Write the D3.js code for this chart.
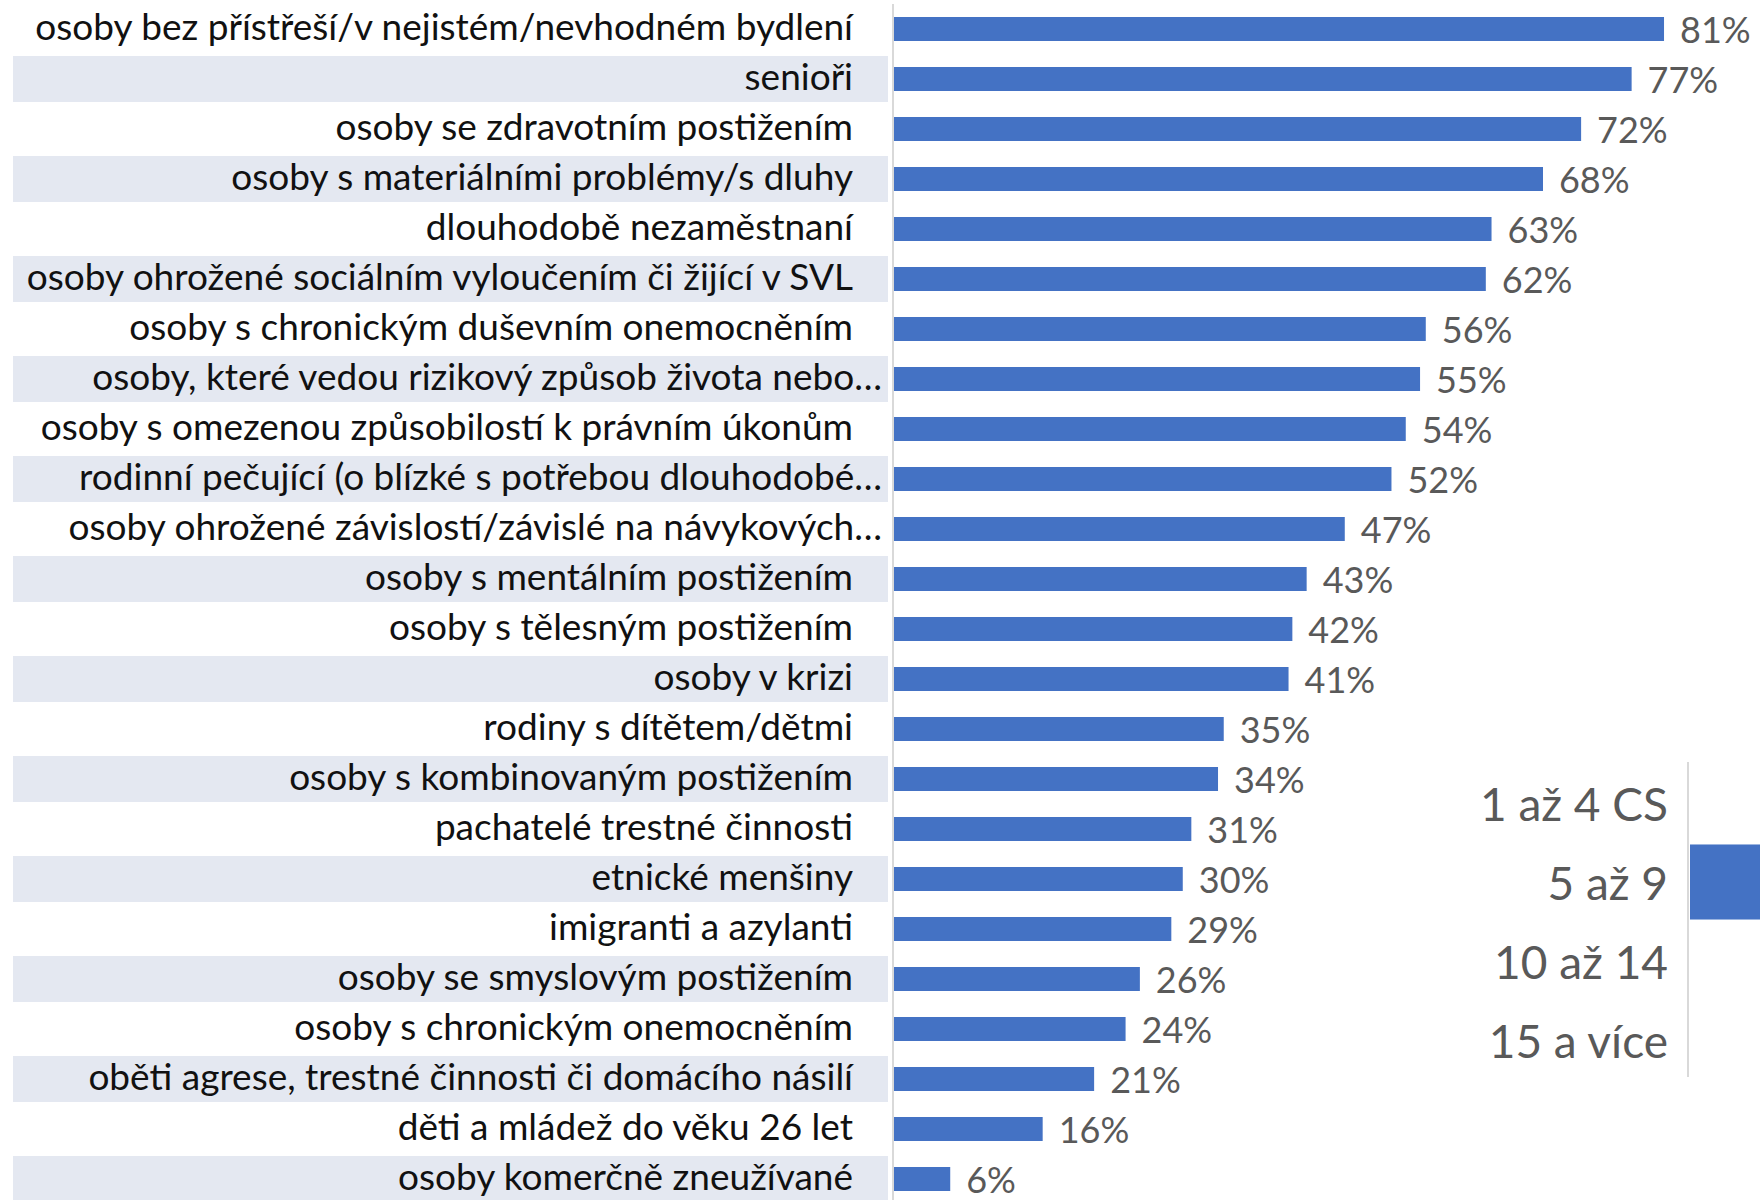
<!DOCTYPE html>
<html>
<head>
<meta charset="utf-8">
<script src="https://cdn.jsdelivr.net/npm/d3@7"></script>
<style>
    body { margin: 0; background: #fff; }
    text { font-family: Lato, "Open Sans", sans-serif; }
</style>
</head>
<body>
<div id="chart"></div>
<script>
(function() {
    let w = 1760;
    let h = 1200;

    // main chart data
    let categories = [
        "osoby bez přístřeší/v nejistém/nevhodném bydlení",
        "senioři",
        "osoby se zdravotním postižením",
        "osoby s materiálními problémy/s dluhy",
        "dlouhodobě nezaměstnaní",
        "osoby ohrožené sociálním vyloučením či žijící v SVL",
        "osoby s chronickým duševním onemocněním",
        "osoby, které vedou rizikový způsob života nebo…",
        "osoby s omezenou způsobilostí k právním úkonům",
        "rodinní pečující (o blízké s potřebou dlouhodobé…",
        "osoby ohrožené závislostí/závislé na návykových…",
        "osoby s mentálním postižením",
        "osoby s tělesným postižením",
        "osoby v krizi",
        "rodiny s dítětem/dětmi",
        "osoby s kombinovaným postižením",
        "pachatelé trestné činnosti",
        "etnické menšiny",
        "imigranti a azylanti",
        "osoby se smyslovým postižením",
        "osoby s chronickým onemocněním",
        "oběti agrese, trestné činnosti či domácího násilí",
        "děti a mládež do věku 26 let",
        "osoby komerčně zneužívané"
    ];
    // bar lengths (labels show them rounded)
    let values = [0.808, 0.774, 0.721, 0.681, 0.627, 0.621, 0.558, 0.552, 0.537, 0.522, 0.473, 0.433,
                  0.418, 0.414, 0.346, 0.340, 0.312, 0.303, 0.291, 0.258, 0.243, 0.210, 0.156, 0.059];

    // second (cut off) chart on the right
    let insetCategories = ["1 až 4 CS", "5 až 9", "10 až 14", "15 a více"];
    let insetValues = [0, 0.45, 0, 0];

    let svg = d3.select("#chart")
        .append("svg")
        .attr("width", w)
        .attr("height", h)
        .attr("viewBox", "0 0 " + w + " " + h);

    let x = d3.scaleLinear()
        .domain([0, 1])
        .range([894, 894 + 953]);

    let y = d3.scaleBand()
        .domain(categories)
        .range([4, 4 + categories.length * 50])
        .padding(0);

    let data = categories.map((c, i) => ({cat: c, val: values[i], i: i}));

    // alternating shaded rows behind labels
    svg.selectAll("rect.stripe")
        .data(data.filter(d => d.i % 2 === 1))
        .enter()
        .append("rect")
        .attr("class", "stripe")
        .attr("x", 13)
        .attr("width", 888 - 13)
        .attr("y", d => y(d.cat) + y.bandwidth() * 0.04)
        .attr("height", y.bandwidth() * 0.92)
        .attr("fill", "#E4E8F1");

    // vertical axis line
    svg.append("line")
        .attr("x1", 893).attr("x2", 893)
        .attr("y1", 4).attr("y2", h)
        .attr("stroke", "#D9D9D9")
        .attr("stroke-width", 2);

    let barH = y.bandwidth() * 0.48;

    svg.selectAll("rect.bar")
        .data(data)
        .enter()
        .append("rect")
        .attr("class", "bar")
        .attr("x", x(0))
        .attr("y", d => y(d.cat) + (y.bandwidth() - barH) / 2)
        .attr("width", d => x(d.val) - x(0))
        .attr("height", barH)
        .attr("fill", "#4472C4");

    // category labels (truncated ones sit closer to the axis)
    svg.selectAll("text.cat")
        .data(data)
        .enter()
        .append("text")
        .attr("class", "cat")
        .attr("x", d => d.cat.endsWith("…") ? 882 : 853)
        .attr("y", d => y(d.cat) + y.bandwidth() / 2)
        .attr("dy", "0.3em")
        .attr("text-anchor", "end")
        .style("font-size", "37px")
        .style("fill", "#111")
        .text(d => d.cat);

    // value labels
    svg.selectAll("text.val")
        .data(data)
        .enter()
        .append("text")
        .attr("class", "val")
        .attr("x", d => x(d.val) + 16)
        .attr("y", d => y(d.cat) + y.bandwidth() / 2)
        .attr("dy", "0.39em")
        .style("font-size", "36px")
        .style("fill", "#595959")
        .text(d => Math.round(d.val * 100) + "%");

    // inset chart
    let yi = d3.scaleBand()
        .domain(insetCategories)
        .range([763.5, 763.5 + 4 * 79])
        .padding(0);

    let xi = d3.scaleLinear()
        .domain([0, 0.5])
        .range([1690, 2200]);

    let inset = insetCategories.map((c, i) => ({cat: c, val: insetValues[i]}));

    svg.selectAll("rect.ibar")
        .data(inset)
        .enter()
        .append("rect")
        .attr("class", "ibar")
        .attr("x", xi(0))
        .attr("y", d => yi(d.cat) + yi.bandwidth() * 0.025)
        .attr("width", d => xi(d.val) - xi(0))
        .attr("height", yi.bandwidth() * 0.95)
        .attr("fill", "#4472C4");

    svg.append("line")
        .attr("x1", 1688).attr("x2", 1688)
        .attr("y1", 762).attr("y2", 1077)
        .attr("stroke", "#D9D9D9")
        .attr("stroke-width", 2);

    svg.selectAll("text.icat")
        .data(inset)
        .enter()
        .append("text")
        .attr("class", "icat")
        .attr("x", 1668)
        .attr("y", d => yi(d.cat) + yi.bandwidth() / 2)
        .attr("dy", "0.39em")
        .attr("text-anchor", "end")
        .style("font-size", "46px")
        .style("fill", "#595959")
        .text(d => d.cat);
})();
</script>
</body>
</html>
